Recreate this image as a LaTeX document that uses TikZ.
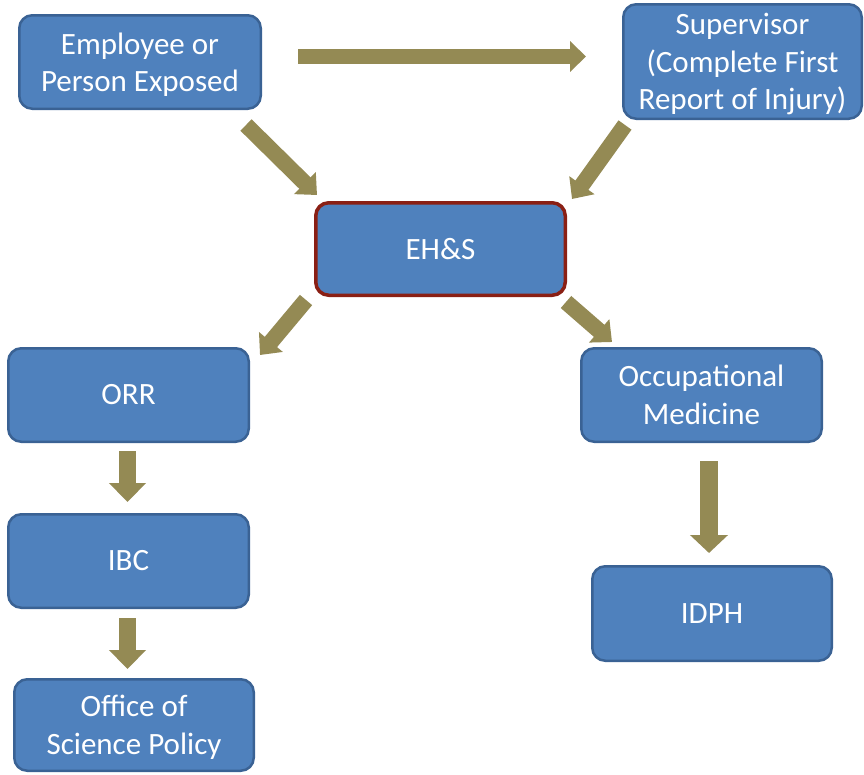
\documentclass[tikz,border=0pt]{standalone}
\usepackage{fontspec}
\setmainfont{Carlito}
\usetikzlibrary{arrows.meta}
\definecolor{boxfill}{HTML}{4F81BD}
\definecolor{boxline}{HTML}{3A6294}
\definecolor{arrowcol}{HTML}{948A54}
\definecolor{redline}{HTML}{8A1F14}
\tikzset{
  box/.style={draw=boxline, fill=boxfill, line width=2.5pt, rounded corners=13pt,
    text=white, align=center, inner sep=0pt, outer sep=0pt,
    font=\fontsize{31}{37.5}\selectfont},
  keybox/.style={box, draw=redline, line width=3.5pt},
  lowtext/.style={text depth=0pt},
  blockarrow/.style args={#1/#2/#3}{draw=arrowcol, line width=#1pt, line cap=butt,
    -{Triangle[length=#3pt, width=#2pt]}},
}
\begin{document}
\begin{tikzpicture}[x=1pt, y=-1pt]
\useasboundingbox (0,0) rectangle (864,774);
% nodes
\node[box, lowtext, minimum width=241.5pt, minimum height=93.5pt] (emp) at (140,62) {Employee or\\Person Exposed};
\node[box, lowtext, minimum width=238.5pt, minimum height=114.5pt] (sup) at (742.5,61.5) {Supervisor\\(Complete First\\Report of Injury)};
\node[keybox, minimum width=249.5pt, minimum height=92.5pt] (ehs) at (440.5,249) {EH\&S};
\node[box, minimum width=240.5pt, minimum height=93.5pt] (orr) at (128.5,395) {ORR};
\node[box, minimum width=240.5pt, minimum height=93.5pt] (occ) at (701.5,395) {Occupational\\Medicine};
\node[box, minimum width=240.5pt, minimum height=93.5pt] (ibc) at (128.5,561) {IBC};
\node[box, minimum width=239.5pt, minimum height=94.5pt] (idph) at (712,613.5) {IDPH};
\node[box, lowtext, minimum width=239.5pt, minimum height=91.5pt] (osp) at (134,725) {Office of\\Science Policy};
% arrow end points
\coordinate (a1s) at (298,56.5);   \coordinate (a1e) at (586,56.5);
\coordinate (a2s) at (246,125);    \coordinate (a2e) at (317,195);
\coordinate (a3s) at (625,125);    \coordinate (a3e) at (572,199);
\coordinate (a4s) at (306,300);    \coordinate (a4e) at (260,355);
\coordinate (a5s) at (566,302);    \coordinate (a5e) at (612,342);
\coordinate (a6s) at (127.5,451);  \coordinate (a6e) at (127.5,502);
\coordinate (a7s) at (127.5,618);  \coordinate (a7e) at (127.5,669);
\coordinate (a8s) at (709,461);    \coordinate (a8e) at (709,553);
% arrows
\draw[blockarrow=15/30/16] (a1s) -- (a1e);
\draw[blockarrow=16/30/17] (a2s) -- (a2e);
\draw[blockarrow=16/30/17] (a3s) -- (a3e);
\draw[blockarrow=16/30/17] (a4s) -- (a4e);
\draw[blockarrow=16/30/17] (a5s) -- (a5e);
\draw[blockarrow=17/36/19] (a6s) -- (a6e);
\draw[blockarrow=17/36/19] (a7s) -- (a7e);
\draw[blockarrow=18/37/18] (a8s) -- (a8e);
\end{tikzpicture}
\end{document}
